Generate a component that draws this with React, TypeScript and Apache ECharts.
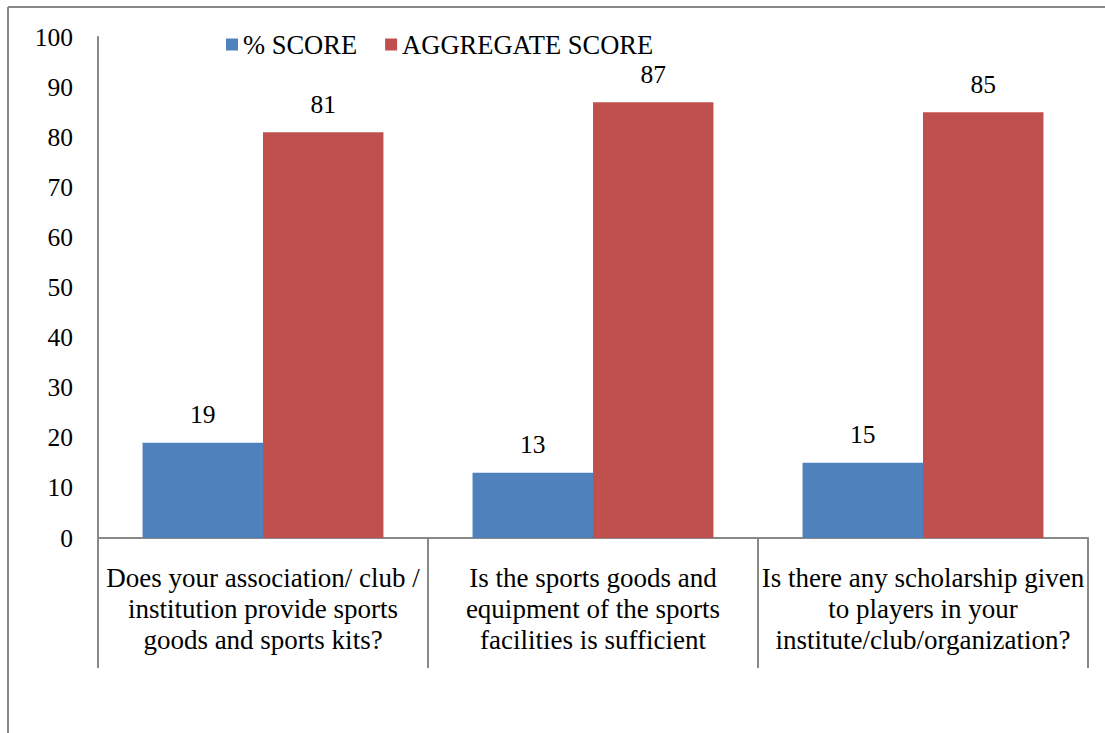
import React, { useEffect, useRef } from "react";
import * as echarts from "echarts";

const categories = [
  "Does your association/ club /\ninstitution provide sports\ngoods and sports kits?",
  "Is the sports goods and\nequipment of the sports\nfacilities is sufficient",
  "Is there any scholarship given\nto players in your\ninstitute/club/organization?",
];
const percentScore = [19, 13, 15];
const aggregateScore = [81, 87, 85];
const seriesNames = ["% SCORE", "AGGREGATE SCORE"];

const FONT = "Liberation Serif";

export default function App() {
  const ref = useRef<HTMLDivElement>(null);
  useEffect(() => {
    if (!ref.current) return;
    const chart = echarts.init(ref.current, undefined, { renderer: "svg" });
    chart.setOption({
      animation: false,
      backgroundColor: "#fff",
      textStyle: { fontFamily: FONT, color: "#000" },
      graphic: [
        { type: "line", shape: { x1: 8, y1: 7, x2: 1105, y2: 7 }, style: { stroke: "#888", lineWidth: 2 } },
        { type: "line", shape: { x1: 8, y1: 7, x2: 8, y2: 733 }, style: { stroke: "#888", lineWidth: 2 } },
      ],
      legend: {
        top: 26,
        left: 221,
        itemWidth: 12,
        itemHeight: 12,
        itemGap: 28,
        icon: "rect",
        textStyle: { fontFamily: FONT, fontSize: 26.5, color: "#000" },
        data: seriesNames,
      },
      grid: { left: 98, right: 17, top: 37, bottom: 195, containLabel: false },
      xAxis: {
        type: "category",
        data: categories,
        axisLine: { show: true, lineStyle: { color: "#888", width: 2 } },
        axisTick: { show: true, length: 130, lineStyle: { color: "#888", width: 2 } },
        axisLabel: {
          fontFamily: FONT,
          fontSize: 27,
          color: "#000",
          lineHeight: 31,
          margin: 24,
          interval: 0,
        },
      },
      yAxis: {
        type: "value",
        min: 0,
        max: 100,
        interval: 10,
        splitLine: { show: false },
        axisTick: { show: false },
        axisLine: { show: true, lineStyle: { color: "#888", width: 2 } },
        axisLabel: { fontFamily: FONT, fontSize: 25.5, color: "#000", margin: 25 },
      },
      series: [
        {
          name: seriesNames[0],
          type: "bar",
          data: percentScore,
          itemStyle: { color: "#4F81BD" },
          barGap: "0%",
          barCategoryGap: "27%",
          label: { show: true, position: "top", distance: 15, fontFamily: FONT, fontSize: 25.5, color: "#000" },
        },
        {
          name: seriesNames[1],
          type: "bar",
          data: aggregateScore,
          itemStyle: { color: "#C0504D" },
          barGap: "0%",
          barCategoryGap: "27%",
          label: { show: true, position: "top", distance: 15, fontFamily: FONT, fontSize: 25.5, color: "#000" },
        },
      ],
    });
    return () => chart.dispose();
  }, []);
  return (
    <div
      ref={ref}
      style={{ position: "absolute", left: 0, top: 0, width: 1105, height: 733 }}
    />
  );
}
